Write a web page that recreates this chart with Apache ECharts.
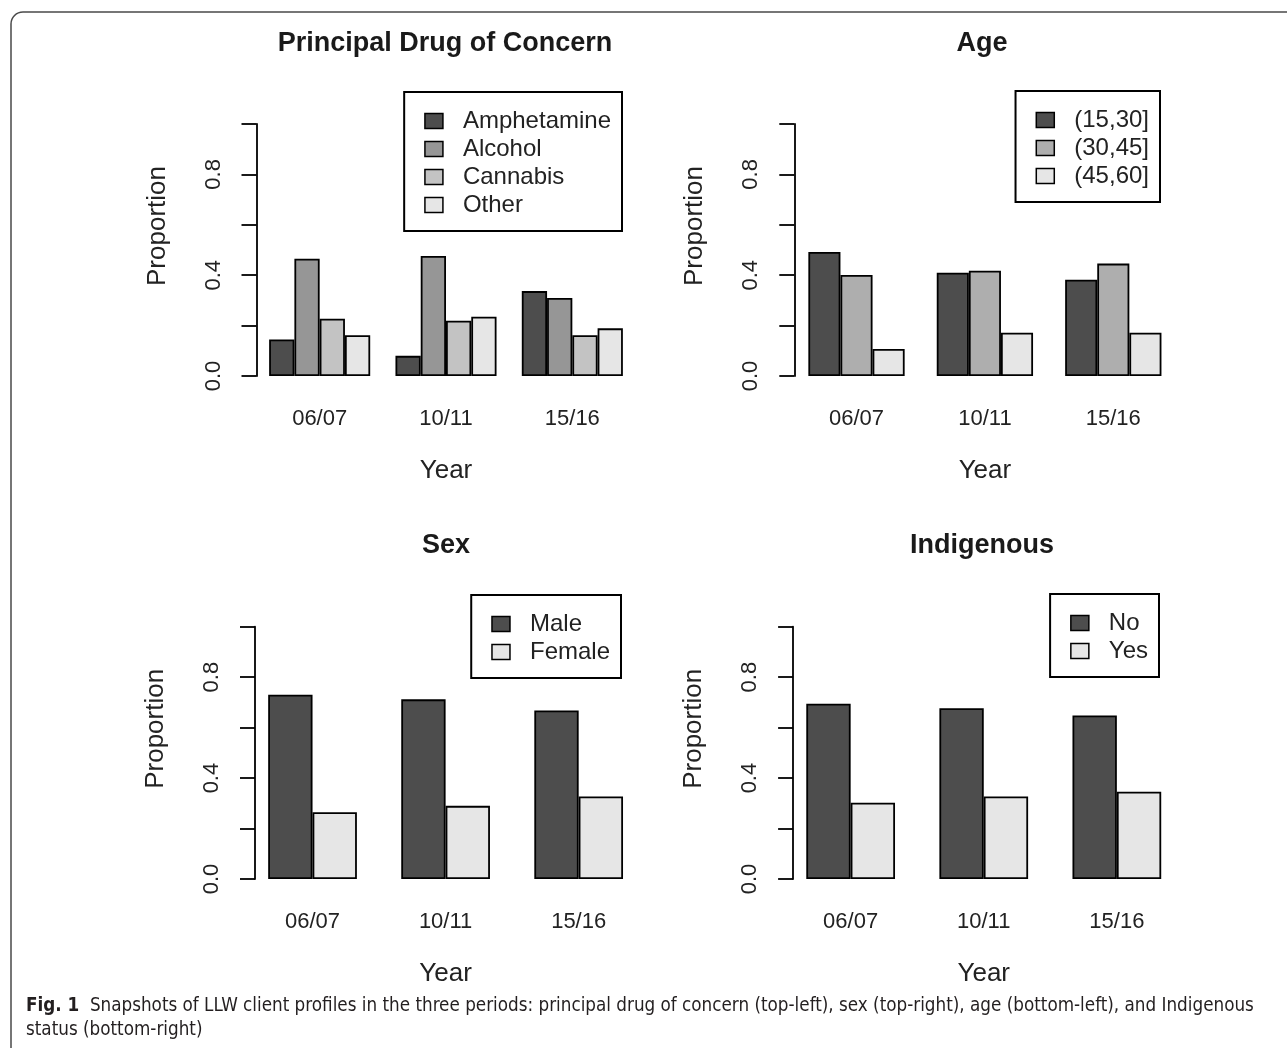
<!DOCTYPE html>
<html><head><meta charset="utf-8">
<script src="https://cdn.jsdelivr.net/npm/echarts@6/dist/echarts.min.js"></script>
<style>html,body{margin:0;padding:0;background:#fff}#c{width:1287px;height:1048px}</style>
</head><body><div id="c"></div>
<script>
// ---- data ----
const years = ['06/07', '10/11', '15/16'];
const yTickLabels = ['0.0', '0.4', '0.8'];

const drugNames = ['Amphetamine', 'Alcohol', 'Cannabis', 'Other'];
const amphetamine = [0.145, 0.080, 0.337];
const alcohol     = [0.465, 0.476, 0.310];
const cannabis    = [0.227, 0.219, 0.162];
const otherDrug   = [0.162, 0.235, 0.189];

const ageNames = ['(15,30]', '(30,45]', '(45,60]'];
const age15to30 = [0.492, 0.410, 0.382];
const age30to45 = [0.401, 0.418, 0.446];
const age45to60 = [0.107, 0.172, 0.172];

const sexNames = ['Male', 'Female'];
const male   = [0.730, 0.712, 0.668];
const female = [0.265, 0.290, 0.327];

const indigenousNames = ['No', 'Yes'];
const indigenousNo  = [0.695, 0.677, 0.648];
const indigenousYes = [0.302, 0.327, 0.346];

const panelTitles = ['Principal Drug of Concern', 'Age', 'Sex', 'Indigenous'];
const xAxisTitle = 'Year';
const yAxisTitle = 'Proportion';
const captionBold = 'Fig. 1';
const captionLine1 = 'Snapshots of LLW client profiles in the three periods: principal drug of concern (top-left), sex (top-right), age (bottom-left), and Indigenous';
const captionLine2 = 'status (bottom-right)';

// ---- styles / layout ----
const gray4 = ['#4D4D4D', '#969696', '#C3C3C3', '#E6E6E6'];
const gray3 = ['#4D4D4D', '#AEAEAE', '#E6E6E6'];
const gray2 = ['#4D4D4D', '#E6E6E6'];
const FONT = '"Liberation Sans", Arial, Helvetica, sans-serif';
const CAPFONT = '"DejaVu Sans Condensed", "Liberation Sans Narrow", sans-serif';

const panels = [
  { names: drugNames, values: [amphetamine, alcohol, cannabis, otherDrug], colors: gray4, gap: '20%',
    grid: { left: 256.5, top: 124, width: 379, height: 252 }, offset: 0,
    titleX: 445, titleY: 30, legend: { right: 665, top: 92 } },
  { names: ageNames, values: [age15to30, age30to45, age45to60], colors: gray3, gap: '25%',
    grid: { left: 792.3, top: 124, width: 385.2, height: 252 }, offset: -2,
    titleX: 982, titleY: 30, legend: { right: 127, top: 91 } },
  { names: sexNames, values: [male, female], colors: gray2, gap: '33.333%',
    grid: { left: 246, top: 626.7, width: 399.2, height: 252.3 }, offset: -9,
    titleX: 446, titleY: 532, legend: { right: 666, top: 595 } },
  { names: indigenousNames, values: [indigenousNo, indigenousYes], colors: gray2, gap: '33.333%',
    grid: { left: 784.1, top: 626.7, width: 399.3, height: 252.3 }, offset: -9,
    titleX: 982, titleY: 532, legend: { right: 128, top: 594 } }
];

const option = {
  animation: false,
  backgroundColor: '#fff',
  textStyle: { fontFamily: FONT },
  title: [], grid: [], xAxis: [], yAxis: [], legend: [], series: [],
  graphic: [
    { type: 'rect', shape: { x: 11, y: 12, width: 1400, height: 1200, r: 12 },
      style: { fill: 'none', stroke: '#4a4a4a', lineWidth: 1.5 }, silent: true },
    { type: 'text', left: 26, top: 997,
      style: { text: '{b|' + captionBold + '}  ' + captionLine1,
        font: '18.7px ' + CAPFONT, fill: '#231f20',
        rich: { b: { fontWeight: 'bold', fontSize: 18.7, fontFamily: CAPFONT, fill: '#231f20' } } } },
    { type: 'text', left: 26, top: 1021,
      style: { text: captionLine2, font: '18.7px ' + CAPFONT, fill: '#231f20' } }
  ]
};

panels.forEach((p, i) => {
  option.title.push({
    text: panelTitles[i], left: p.titleX, top: p.titleY, textAlign: 'center', padding: 0,
    textStyle: { fontFamily: FONT, fontSize: 27, fontWeight: 'bold', color: '#1a1a1a' }
  });
  option.grid.push(Object.assign({ containLabel: false }, p.grid));
  option.xAxis.push({
    type: 'category', gridIndex: i, data: years,
    axisLine: { show: false }, axisTick: { show: false },
    axisLabel: { margin: 32, fontSize: 22, color: '#222', fontFamily: FONT },
    name: xAxisTitle, nameLocation: 'middle', nameGap: 82,
    nameTextStyle: { fontSize: 26, color: '#222', fontFamily: FONT }
  });
  option.yAxis.push({
    type: 'value', gridIndex: i, min: 0, max: 1, interval: 0.2, offset: p.offset,
    splitLine: { show: false },
    axisLine: { show: true, lineStyle: { color: '#000', width: 1.8 } },
    axisTick: { show: true, length: 15, lineStyle: { color: '#000', width: 1.8 } },
    axisLabel: { rotate: 90, margin: 32, fontSize: 22, color: '#222', fontFamily: FONT,
      formatter: v => yTickLabels.includes(v.toFixed(1)) ? v.toFixed(1) : '' },
    name: yAxisTitle, nameLocation: 'middle', nameGap: 86,
    nameTextStyle: { fontSize: 26, color: '#222', fontFamily: FONT, padding: [0, 0, 0, 48] }
  });
  option.legend.push({
    orient: 'vertical', right: p.legend.right, top: p.legend.top,
    data: p.names, selectedMode: false,
    backgroundColor: '#fff', borderColor: '#000', borderWidth: 2,
    padding: [17, 11, 14, 20], itemGap: 4, itemWidth: 18, itemHeight: 15,
    icon: 'rect',
    itemStyle: { borderColor: '#000', borderWidth: 1.5 },
    textStyle: { fontSize: 24, lineHeight: 24, color: '#222', fontFamily: FONT, padding: [0, 0, 0, 15] }
  });
  p.values.forEach((vals, k) => {
    option.series.push({
      type: 'bar', name: p.names[k], xAxisIndex: i, yAxisIndex: i, data: vals,
      barGap: '0%', barCategoryGap: p.gap,
      itemStyle: { color: p.colors[k], borderColor: '#000', borderWidth: 1.8 },
      emphasis: { disabled: true }, silent: true
    });
  });
});

const chart = echarts.init(document.getElementById('c'), null, { renderer: 'canvas' });
chart.setOption(option);
</script></body></html>
